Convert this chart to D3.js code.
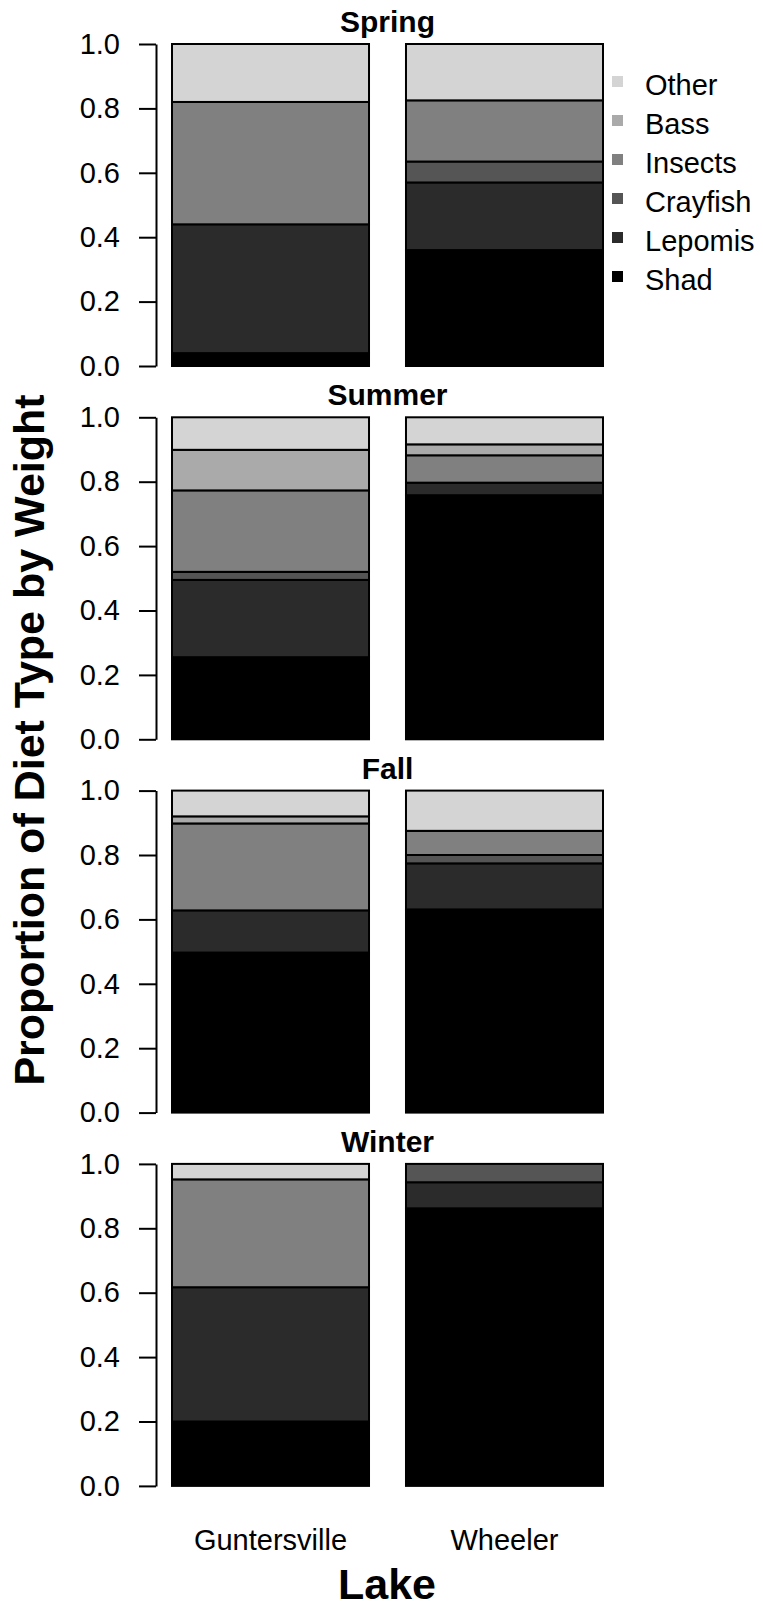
<!DOCTYPE html>
<html>
<head>
<meta charset="utf-8">
<script src="https://cdn.jsdelivr.net/npm/d3@7"></script>
<style>
body { margin: 0; background: #fff; }
text { font-family: "Liberation Sans", Arial, sans-serif; fill: #000; }
</style>
</head>
<body>
<svg id="chart"></svg>
<script>
var screen = {width: 763, height: 1610}

var seasons = ["Spring", "Summer", "Fall", "Winter"]
var lakes = ["Guntersville", "Wheeler"]
var dietTypes = ["Shad", "Lepomis", "Crayfish", "Insects", "Bass", "Other"]
var dietColors = ["#000000", "#2b2b2b", "#555555", "#808080", "#aaaaaa", "#d4d4d4"]
var tickValues = [0, 0.2, 0.4, 0.6, 0.8, 1.0]

// proportions by weight, same order as dietTypes: [Guntersville, Wheeler]
var spring = [[0.04, 0.40, 0, 0.38, 0, 0.18], [0.36, 0.21, 0.065, 0.19, 0, 0.175]]
var summer = [[0.255, 0.24, 0.025, 0.253, 0.126, 0.101], [0.758, 0.039, 0, 0.085, 0.034, 0.084]]
var fall = [[0.497, 0.131, 0, 0.27, 0.022, 0.08], [0.631, 0.143, 0.026, 0.075, 0, 0.125]]
var winter = [[0.20, 0.417, 0, 0.335, 0, 0.048], [0.862, 0.081, 0.057, 0, 0, 0]]

var seasonData = [spring, summer, fall, winter]

var panel = {top: 44, height: 322, step: 373.3, axisX: 156}

var svg = d3.select("#chart")
    .attr("width", screen.width)
    .attr("height", screen.height)

var xScale = d3.scaleBand()
    .domain(lakes)
    .range([172, 603])
    .paddingInner(0.158)

var cScale = d3.scaleOrdinal()
    .domain(dietTypes)
    .range(dietColors)

var stack = d3.stack().keys(dietTypes)

var toRows = function(values)
{
    return lakes.map(function(lake, i) {
        var row = {lake: lake}
        dietTypes.forEach(function(k, j) { row[k] = values[i][j] })
        return row
    })
}

var drawPanel = function(season, values, i)
{
    var top = panel.top + i * panel.step
    var yScale = d3.scaleLinear()
        .domain([0, 1])
        .range([top + panel.height, top])

    var g = svg.append("g").attr("class", "panel")

    var layers = stack(toRows(values))

    g.selectAll("g.layer")
        .data(layers)
        .enter()
        .append("g")
        .attr("class", "layer")
        .attr("fill", function(d) { return cScale(d.key) })
        .selectAll("rect")
        .data(function(d) { return d })
        .enter()
        .append("rect")
        .attr("x", function(d) { return xScale(d.data.lake) })
        .attr("width", xScale.bandwidth())
        .attr("y", function(d) { return yScale(d[1]) })
        .attr("height", function(d) { return yScale(d[0]) - yScale(d[1]) })
        .attr("stroke", "#000")
        .attr("stroke-width", 2)

    var yAxis = d3.axisLeft(yScale)
        .tickValues(tickValues)
        .tickFormat(d3.format(".1f"))
        .tickSize(17)
        .tickSizeOuter(0)
        .tickPadding(19)

    var ax = g.append("g")
        .attr("transform", "translate(" + panel.axisX + ",0)")
        .call(yAxis)
    ax.selectAll("path, line").attr("stroke", "#000").attr("stroke-width", 2)
    ax.selectAll("text")
        .style("font-size", "29px")
        .attr("fill", "#000")
        .style("font-family", "'Liberation Sans', Arial, sans-serif")

    g.append("text")
        .attr("x", (xScale.range()[0] + xScale.range()[1]) / 2)
        .attr("y", top - 12)
        .attr("text-anchor", "middle")
        .style("font-size", "30px")
        .style("font-weight", "bold")
        .text(season)
}

seasons.forEach(function(s, i) { drawPanel(s, seasonData[i], i) })

// legend, top row is the last diet type
var legend = svg.append("g").attr("class", "legend")
var legendItems = dietTypes.slice().reverse()
legend.selectAll("rect")
    .data(legendItems)
    .enter()
    .append("rect")
    .attr("x", 612)
    .attr("y", function(d, i) { return 76 + i * 39 })
    .attr("width", 11)
    .attr("height", 11)
    .attr("fill", function(d) { return cScale(d) })
legend.selectAll("text")
    .data(legendItems)
    .enter()
    .append("text")
    .attr("x", 645)
    .attr("y", function(d, i) { return 85 + i * 39 })
    .attr("dy", "0.35em")
    .style("font-size", "29px")
    .text(function(d) { return d })

// lake labels under the last panel
svg.selectAll("text.lake")
    .data(lakes)
    .enter()
    .append("text")
    .attr("class", "lake")
    .attr("x", function(d) { return xScale(d) + xScale.bandwidth() / 2 })
    .attr("y", 1550)
    .attr("text-anchor", "middle")
    .style("font-size", "29px")
    .text(function(d) { return d })

svg.append("text")
    .attr("x", 387)
    .attr("y", 1599)
    .attr("text-anchor", "middle")
    .style("font-size", "43px")
    .style("font-weight", "bold")
    .text("Lake")

svg.append("text")
    .attr("transform", "translate(44,740) rotate(-90)")
    .attr("text-anchor", "middle")
    .style("font-size", "43px")
    .style("font-weight", "bold")
    .text("Proportion of Diet Type by Weight")
</script>
</body>
</html>
